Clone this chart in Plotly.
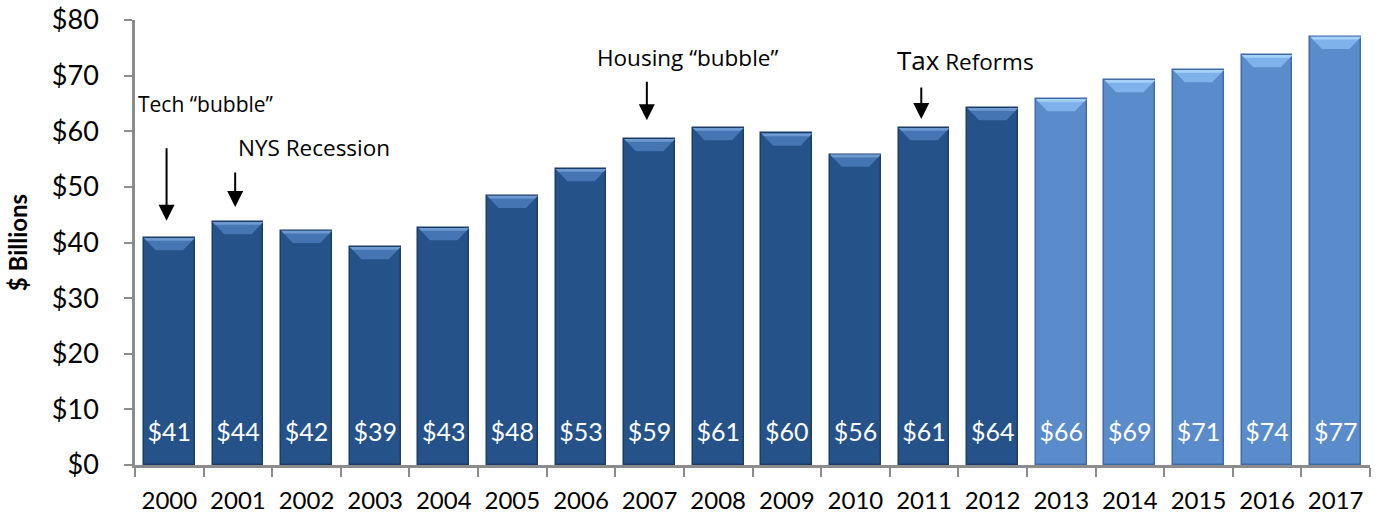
import plotly.graph_objects as go

# Annual values, $ billions
years = ["2000", "2001", "2002", "2003", "2004", "2005", "2006", "2007", "2008",
         "2009", "2010", "2011", "2012", "2013", "2014", "2015", "2016", "2017"]
values = [40.8, 43.7, 42.1, 39.2, 42.6, 48.4, 53.2, 58.6, 60.6,
          59.6, 55.8, 60.6, 64.2, 65.8, 69.2, 71.0, 73.7, 77.0]
projected = [False] * 13 + [True] * 5

# Event call-outs: year, arrow tip value, arrow length px
events_year = ["2000", "2001", "2007", "2011"]
events_tip = [43.9, 46.4, 62.0, 62.2]
events_len = [74, 36, 40, 33]

DARK, DARK_EDGE, DARK_BEVEL, DARK_TOP = "#26528a", "#1b3d68", "#4675b3", "#6f9ad0"
LIGHT, LIGHT_EDGE, LIGHT_BEVEL, LIGHT_TOP = "#5a8bcb", "#3f6ca8", "#7fb2ea", "#a6d1f7"

xs = list(range(len(years)))
bar_w = 0.74
fill = [LIGHT if p else DARK for p in projected]
edge = [LIGHT_EDGE if p else DARK_EDGE for p in projected]

fig = go.Figure()
fig.add_trace(go.Bar(
    x=xs, y=values, width=bar_w,
    marker=dict(color=fill, line=dict(color=edge, width=1.5)),
    hoverinfo="skip", showlegend=False,
))

# value labels near the base of each bar
fig.add_trace(go.Scatter(
    x=xs, y=[5.4] * len(xs), mode="text",
    text=[f"${v:.0f}" for v in values],
    textfont=dict(family="Lato", size=25, color="white"),
    hoverinfo="skip", showlegend=False,
))

# bevelled top on every bar
shapes = []
bevel_h = 2.2
inset = 0.17
for i, (v, p) in enumerate(zip(values, projected)):
    l, r = i - bar_w / 2, i + bar_w / 2
    shapes.append(dict(
        type="path", xref="x", yref="y",
        path=f"M {l},{v} L {r},{v} L {r - inset},{v - bevel_h} L {l + inset},{v - bevel_h} Z",
        fillcolor=LIGHT_BEVEL if p else DARK_BEVEL, line=dict(width=0), layer="above",
    ))
    shapes.append(dict(
        type="path", xref="x", yref="y",
        path=f"M {l},{v} L {r},{v} L {r - 0.04},{v - 0.5} L {l + 0.04},{v - 0.5} Z",
        fillcolor=LIGHT_TOP if p else DARK_TOP, line=dict(width=0), layer="above",
    ))

annotations = []
for yr, tip, ln in zip(events_year, events_tip, events_len):
    annotations.append(dict(
        x=years.index(yr) - 0.04, y=tip, xref="x", yref="y", text="",
        showarrow=True, arrowhead=2, arrowsize=1.6, arrowwidth=2, arrowcolor="black",
        ax=0, ay=-ln,
    ))


def lbl(size):
    return dict(family="Open Sans", size=size, color="black")


annotations += [
    dict(x=-0.48, y=64.9, xref="x", yref="y", text="Tech “bubble”", showarrow=False,
         xanchor="left", font=lbl(21)),
    dict(x=0.97, y=57.0, xref="x", yref="y", text="NYS Recession", showarrow=False,
         xanchor="left", font=lbl(22.5)),
    dict(x=6.2, y=73.3, xref="x", yref="y", text="Housing “bubble”", showarrow=False,
         xanchor="left", font=lbl(22.5)),
    dict(x=10.58, y=72.8, xref="x", yref="y",
         text="<span style='font-size:26px'>Tax</span> Reforms", showarrow=False,
         xanchor="left", font=lbl(22.5)),
]

fig.update_layout(
    width=1379, height=514,
    margin=dict(l=135, r=9, t=20, b=49),
    paper_bgcolor="white", plot_bgcolor="white",
    bargap=0, shapes=shapes, annotations=annotations,
    font=dict(family="Lato", color="black"),
)
fig.update_xaxes(
    range=[-0.5, len(years) - 0.5], automargin=False,
    tickmode="array", tickvals=xs, ticktext=years,
    ticks="", showline=True, linecolor="#8c8c8c", linewidth=2.5,
    tickfont=dict(family="Lato", size=24, color="black"),
    ticklabelstandoff=12,
    minor=dict(tickmode="array", tickvals=[i - 0.5 for i in range(len(years) + 1)],
               ticks="outside", ticklen=9, tickwidth=2, tickcolor="#8c8c8c"),
    showgrid=False, zeroline=False, fixedrange=True,
)
fig.update_yaxes(
    range=[0, 80], dtick=10, tickprefix="$", automargin=False,
    ticks="outside", ticklen=8, tickwidth=2, tickcolor="#8c8c8c",
    showline=True, linecolor="#8c8c8c", linewidth=2.5,
    tickfont=dict(family="Lato", size=27, color="black"),
    ticklabelstandoff=20,
    title=dict(text="<b>$ Billions</b>", font=dict(family="Lato", size=24, color="black"),
               standoff=18),
    showgrid=False, zeroline=False, fixedrange=True,
)

fig.write_html("out.html")
